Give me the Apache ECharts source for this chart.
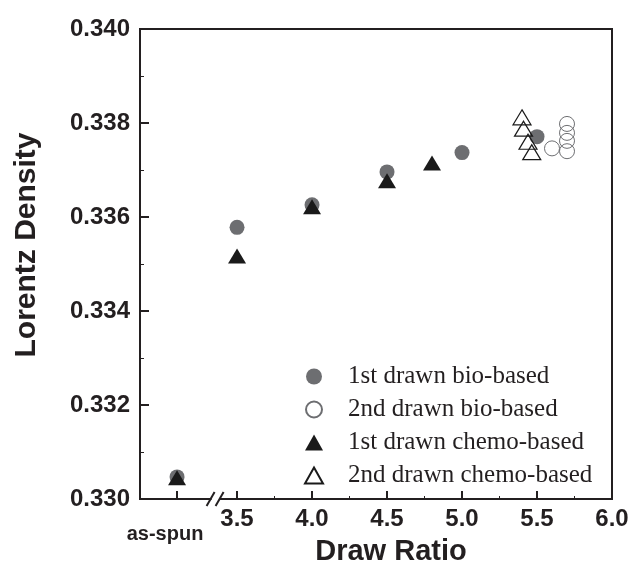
<!DOCTYPE html>
<html>
<head>
<meta charset="utf-8">
<script src="https://cdn.jsdelivr.net/npm/echarts@6/dist/echarts.min.js"></script>
<style>
  html, body { margin: 0; padding: 0; background: #fff; }
  #chart { width: 636px; height: 564px; }
</style>
</head>
<body>
<div id="chart"></div>
<script>
// draw ratio (as-spun placed at 3.1 on a broken axis)
var bio1X = [3.1, 3.5, 4.0, 4.5, 5.0, 5.5];
var bio1Y = [0.33047, 0.33578, 0.33626, 0.33696, 0.33737, 0.33771];
var bio2X = [5.6, 5.7, 5.7, 5.7, 5.7];
var bio2Y = [0.33746, 0.33798, 0.33779, 0.33762, 0.33740];
var chemo1X = [3.1, 3.5, 4.0, 4.5, 4.8];
var chemo1Y = [0.33045, 0.33517, 0.33622, 0.33677, 0.33715];
var chemo2X = [5.40, 5.41, 5.44, 5.465];
var chemo2Y = [0.33812, 0.33788, 0.33760, 0.33738];

var majorX = [3.1, 3.5, 4.0, 4.5, 5.0, 5.5];
var labelX = [3.5, 4.0, 4.5, 5.0, 5.5, 6.0];
var minorX = [3.75, 4.25, 4.75, 5.25, 5.75];
var seriesNames = ['1st drawn bio-based', '2nd drawn bio-based', '1st drawn chemo-based', '2nd drawn chemo-based'];

function pairs (xs, ys) {
  return xs.map(function (x, i) { return [x, ys[i]] })
}

var sansFont = '"Liberation Sans", Arial, sans-serif';
var axisColor = '#231f20';

var chart = echarts.init(document.getElementById('chart'));

var option = {
  animation: false,
  grid: {
    left: 140, right: 24, top: 29, bottom: 65,
    show: true, borderColor: axisColor, borderWidth: 2
  },
  legend: {
    orient: 'vertical',
    left: 304, top: 364,
    padding: 0,
    itemWidth: 18, itemHeight: 16, itemGap: 8,
    data: seriesNames,
    textStyle: {
      fontFamily: '"Liberation Serif", "Times New Roman", serif', fontSize: 25, lineHeight: 25,
      color: '#231f20', padding: [0, 0, 0, 20]
    }
  },
  xAxis: [
    {
      type: 'value', min: 2.853, max: 6.0,
      splitLine: { show: false },
      axisLine: { lineStyle: { color: axisColor, width: 2 } },
      axisTick: { inside: true, length: 8, customValues: majorX, lineStyle: { color: axisColor, width: 2 } },
      axisLabel: {
        customValues: labelX, margin: 8, color: '#231f20',
        fontFamily: sansFont, fontSize: 24, fontWeight: 'bold',
        formatter: function (v) { return v.toFixed(1) }
      }
    },
    {
      type: 'value', min: 2.853, max: 6.0, position: 'bottom',
      splitLine: { show: false },
      axisLine: { show: false },
      axisTick: { inside: true, length: 3, customValues: minorX, lineStyle: { color: axisColor, width: 1 } },
      axisLabel: { show: false }
    }
  ],
  yAxis: {
    type: 'value', min: 0.330, max: 0.340, interval: 0.002,
    splitLine: { show: false },
    axisLine: { lineStyle: { color: axisColor, width: 2 } },
    axisTick: { inside: true, length: 9, lineStyle: { color: axisColor, width: 2 } },
    minorTick: { show: true, splitNumber: 2, length: 4, lineStyle: { color: axisColor, width: 1 } },
    axisLabel: {
      margin: 10, color: '#231f20',
      fontFamily: sansFont, fontSize: 24, fontWeight: 'bold',
      formatter: function (v) { return v.toFixed(3) }
    }
  },
  series: [
    {
      name: seriesNames[0], type: 'scatter', symbol: 'circle', symbolSize: 15,
      itemStyle: { color: '#6d6e71', opacity: 1 },
      data: pairs(bio1X, bio1Y)
    },
    {
      name: seriesNames[1], type: 'scatter', symbol: 'circle', symbolSize: 15,
      itemStyle: { color: 'rgba(255,255,255,0)', borderColor: '#6d6e71', borderWidth: 1, opacity: 1 },
      data: pairs(bio2X, bio2Y)
    },
    {
      name: seriesNames[2], type: 'scatter', symbol: 'triangle', symbolSize: [18, 15],
      itemStyle: { color: '#1a1a1a', opacity: 1 },
      data: pairs(chemo1X, chemo1Y)
    },
    {
      name: seriesNames[3], type: 'scatter', symbol: 'triangle', symbolSize: [18, 15],
      itemStyle: { color: 'rgba(255,255,255,0)', borderColor: '#1a1a1a', borderWidth: 1.2, opacity: 1 },
      data: pairs(chemo2X, chemo2Y)
    }
  ]
};

chart.setOption(option);

// axis titles, as-spun label and the "//" axis break
var breakX = chart.convertToPixel({ xAxisIndex: 0 }, 3.357);
var baseY = chart.convertToPixel({ yAxisIndex: 0 }, 0.330);
var asSpunX = chart.convertToPixel({ xAxisIndex: 0 }, 3.02);

chart.setOption({
  graphic: [
    {
      type: 'rect', shape: { x: breakX - 4, y: baseY - 3, width: 8, height: 6 },
      style: { fill: '#fff' }, z: 100
    },
    {
      type: 'line', shape: { x1: breakX - 9, y1: baseY + 7, x2: breakX - 1, y2: baseY - 7 },
      style: { stroke: axisColor, lineWidth: 2 }, z: 101
    },
    {
      type: 'line', shape: { x1: breakX, y1: baseY + 7, x2: breakX + 8, y2: baseY - 7 },
      style: { stroke: axisColor, lineWidth: 2 }, z: 101
    },
    {
      type: 'text', x: asSpunX, y: baseY + 45,
      style: { text: 'as-spun', fontFamily: sansFont, fontSize: 20, fontWeight: 'bold', fill: '#231f20', textAlign: 'center', textVerticalAlign: 'bottom' }
    },
    {
      type: 'text', x: 391, y: 552,
      style: { text: 'Draw Ratio', fontFamily: sansFont, fontSize: 29, fontWeight: 'bold', fill: '#231f20', textAlign: 'center', textVerticalAlign: 'middle' }
    },
    {
      type: 'text', x: 27, y: 245, rotation: Math.PI / 2,
      style: { text: 'Lorentz Density', fontFamily: sansFont, fontSize: 30, fontWeight: 'bold', fill: '#231f20', textAlign: 'center', textVerticalAlign: 'middle' }
    }
  ]
});
</script>
</body>
</html>
